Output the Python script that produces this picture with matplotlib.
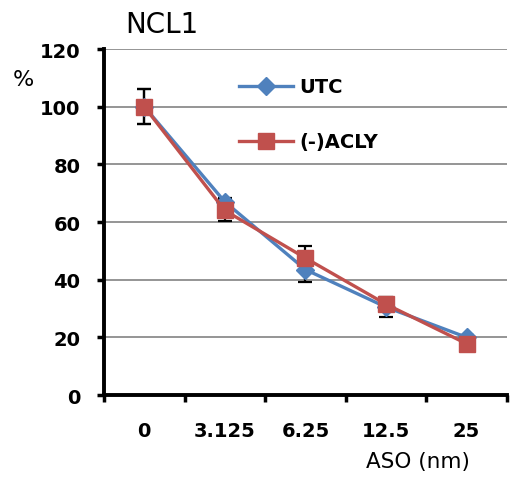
import matplotlib

matplotlib.use("Agg")
import matplotlib.pyplot as plt
import numpy as np

doses = ["0", "3.125", "6.25", "12.5", "25"]
utc = [100, 67, 43.5, 30.5, 20]
utc_err = [6, 1.5, 4.2, 3.3, 0.8]
acly = [100, 64, 47.5, 31.5, 17.8]
acly_err = [6, 3.7, 4.3, 2.5, 0.8]
y_ticks = [0, 20, 40, 60, 80, 100, 120]

BLUE = "#4F81BD"
RED = "#C0504D"

fig = plt.figure(figsize=(5.13, 4.81), dpi=100)
ax = fig.add_axes([0.2027, 0.1767, 0.7853, 0.7193])

x = np.arange(len(doses))
for vals, err in [(utc, utc_err), (acly, acly_err)]:
    ax.errorbar(x, vals, yerr=err, fmt="none", ecolor="black", elinewidth=1.6,
                capsize=5, capthick=1.6, zorder=2)
ax.plot(x, utc, color=BLUE, lw=2.4, marker="D", ms=9, label="UTC", zorder=3)
ax.plot(x, acly, color=RED, lw=2.4, marker="s", ms=11, label="(-)ACLY", zorder=4)

ax.set_xlim(-0.5, len(doses) - 0.5)
ax.set_ylim(0, 120)
ax.set_yticks(y_ticks)
ax.set_yticklabels([str(v) for v in y_ticks], fontsize=14, fontweight="bold")
ax.set_xticks(x)
ax.set_xticklabels(doses, fontsize=14, fontweight="bold")
ax.tick_params(axis="x", length=0, pad=19)
ax.set_xticks(np.arange(len(doses) + 1) - 0.5, minor=True)
ax.tick_params(axis="x", which="minor", length=5, width=2.5, direction="out")
ax.tick_params(axis="y", length=5, width=2.5, direction="out", pad=12)

ax.grid(axis="y", color="#8c8c8c", lw=1.3)
ax.set_axisbelow(True)
for s in ["top", "right"]:
    ax.spines[s].set_visible(False)
for s in ["left", "bottom"]:
    ax.spines[s].set_linewidth(2.8)

fig.text(162 / 513, 1 - 33 / 481, "NCL1", fontsize=20, ha="center", va="baseline")
fig.text(23 / 513, 1 - 80 / 481, "%", fontsize=16, ha="center", va="center")
fig.text(418 / 513, 1 - 462 / 481, "ASO (nm)", fontsize=15.5, ha="center", va="center")

ax.legend(loc="upper left", bbox_to_anchor=(0.335, 0.918), frameon=False,
          prop={"size": 14, "weight": "bold"}, labelspacing=1.85, borderpad=0,
          borderaxespad=0, handlelength=2.8, handletextpad=0.3)

fig.savefig("out.png", dpi=100)
